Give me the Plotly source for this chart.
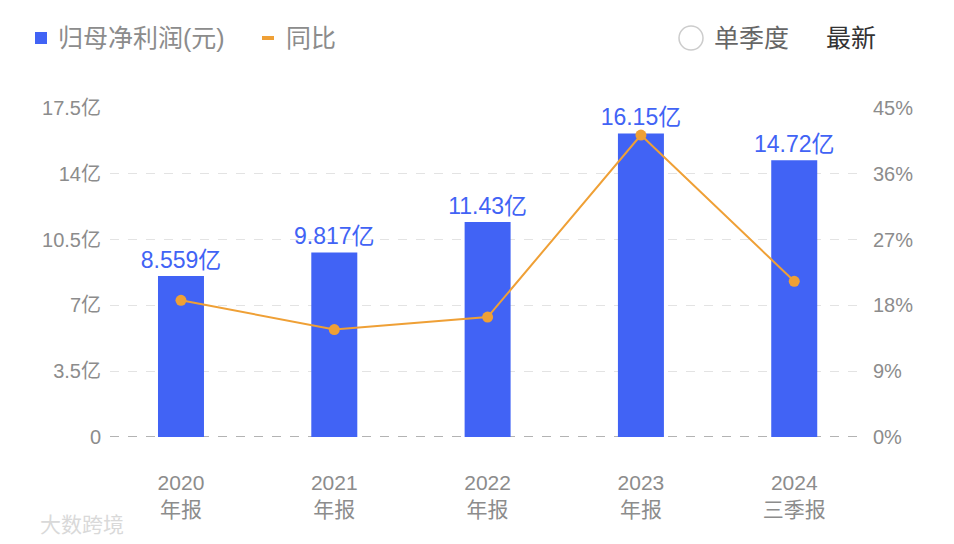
import plotly.graph_objects as go

categories = ["2020<br>年报", "2021<br>年报", "2022<br>年报", "2023<br>年报", "2024<br>三季报"]
profit = [8.559, 9.817, 11.43, 16.15, 14.72]          # 亿元
profit_labels = ["8.559亿", "9.817亿", "11.43亿", "16.15亿", "14.72亿"]
yoy = [18.7, 14.7, 16.4, 41.3, 21.3]                   # %
left_ticks = [0, 3.5, 7, 10.5, 14, 17.5]
left_tick_text = ["0", "3.5亿", "7亿", "10.5亿", "14亿", "17.5亿"]
right_ticks = [0, 9, 18, 27, 36, 45]
right_tick_text = ["0%", "9%", "18%", "27%", "36%", "45%"]

BLUE = "#4163f5"
ORANGE = "#efa036"
GRAY = "#8c8c8c"
FONT = "Liberation Sans, Noto Sans CJK SC, sans-serif"

# page body has an 8px margin: figure is 946x536 so the plot lands on page 110..864 x 108..437
W, H = 946, 536
ML, MR, MT, MB = 102, 90, 100, 107
PW = W - ML - MR   # 754
PH = H - MT - MB   # 329


def px(xp):   # page x -> paper fraction
    return (xp - 8 - ML) / PW


def py(yp):   # page y -> paper fraction
    return (H - MB - (yp - 8)) / PH


fig = go.Figure()
fig.add_trace(go.Bar(
    x=categories, y=profit, text=profit_labels, textposition="outside",
    constraintext="none",
    textfont=dict(color=BLUE, size=23, family=FONT), cliponaxis=False,
    marker=dict(color=BLUE, line=dict(width=0)), width=0.3, yaxis="y",
    showlegend=False,
))
fig.add_trace(go.Scatter(
    x=categories, y=yoy, mode="lines+markers", yaxis="y2",
    line=dict(color=ORANGE, width=2), marker=dict(color=ORANGE, size=11),
    cliponaxis=False, showlegend=False,
))

fig.update_layout(
    width=W, height=H,
    margin=dict(l=ML, r=MR, t=MT, b=MB),
    plot_bgcolor="white", paper_bgcolor="white",
    font=dict(family=FONT, color=GRAY),
    xaxis=dict(range=[-0.463, 4.455], showgrid=False, showline=False, zeroline=False,
               ticks="", tickfont=dict(size=21, color=GRAY), ticklabelstandoff=31,
               automargin=False),
    yaxis=dict(range=[0, 17.5], tickvals=left_ticks, ticktext=left_tick_text,
               showgrid=True, gridcolor="#e3e3e3", griddash="dash", gridwidth=1,
               zeroline=False, showline=False, ticks="",
               tickfont=dict(size=20, color=GRAY), ticklabelstandoff=8, automargin=False),
    yaxis2=dict(range=[0, 45], tickvals=right_ticks, ticktext=right_tick_text,
                overlaying="y", side="right", showgrid=False, zeroline=False,
                showline=False, ticks="", tickfont=dict(size=20, color=GRAY),
                ticklabelstandoff=8, automargin=False),
)

# dashed baseline
fig.add_shape(type="line", xref="paper", yref="y", x0=0, x1=1, y0=0, y1=0,
              line=dict(color="#9a9a9a", width=1.5, dash="dash"), layer="below")

# legend (drawn manually)
LEG = 25
fig.add_shape(type="rect", xref="paper", yref="paper",
              x0=px(35), x1=px(47), y0=py(44), y1=py(32),
              fillcolor=BLUE, line=dict(width=0))
fig.add_annotation(text="归母净利润(元)", xref="paper", yref="paper",
                   x=px(56), y=py(38), xanchor="left", yanchor="middle",
                   showarrow=False, font=dict(size=LEG, color=GRAY, family=FONT))
fig.add_shape(type="line", xref="paper", yref="paper",
              x0=px(262), x1=px(274), y0=py(38), y1=py(38),
              line=dict(color=ORANGE, width=4))
fig.add_annotation(text="同比", xref="paper", yref="paper",
                   x=px(284), y=py(38), xanchor="left", yanchor="middle",
                   showarrow=False, font=dict(size=LEG, color=GRAY, family=FONT))
fig.add_shape(type="circle", xref="paper", yref="paper",
              x0=px(679), x1=px(703), y0=py(50), y1=py(26),
              line=dict(color="#cccccc", width=1.5), fillcolor="white")
fig.add_annotation(text="单季度", xref="paper", yref="paper",
                   x=px(712), y=py(38), xanchor="left", yanchor="middle",
                   showarrow=False, font=dict(size=LEG, color="#666666", family=FONT))
fig.add_annotation(text="最新", xref="paper", yref="paper",
                   x=px(824), y=py(38), xanchor="left", yanchor="middle",
                   showarrow=False, font=dict(size=LEG, color="#333333", family=FONT))
# watermark
fig.add_annotation(text="大数跨境", xref="paper", yref="paper",
                   x=px(38), y=py(524), xanchor="left", yanchor="middle",
                   showarrow=False, font=dict(size=21, color="#d9d9d9", family=FONT))

fig.write_html("out.html")
